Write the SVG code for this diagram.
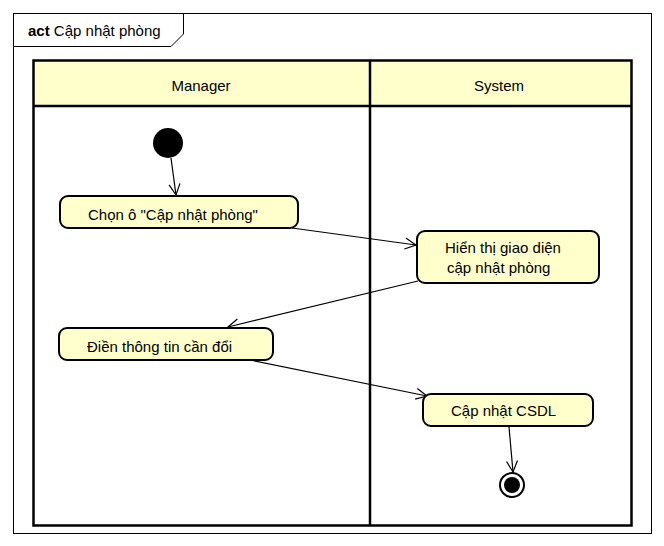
<svg xmlns="http://www.w3.org/2000/svg" width="664" height="546" viewBox="0 0 664 546">
<defs>
<style>
text{font-family:"Liberation Sans",Arial,sans-serif;font-size:15px;fill:#000}
.node{fill:#FFFFCC;stroke:#000;stroke-width:2}
.lane{fill:none;stroke:#000;stroke-width:2.5}
.hdr{fill:#FFFFCC;stroke:none}
.edge{fill:none;stroke:#000;stroke-width:1.2}
</style>
<marker id="arr" markerWidth="14" markerHeight="14" refX="12" refY="7" orient="auto" markerUnits="userSpaceOnUse">
<path d="M1,1.5 L12,7 L1,12.5" fill="none" stroke="#000" stroke-width="1.2"/>
</marker>
</defs>
<rect x="0" y="0" width="664" height="546" fill="#fff"/>
<g id="frame">
<rect x="13.5" y="13.5" width="638" height="520" fill="none" stroke="#000" stroke-width="1"/>
<path d="M13.5,46.5 L171,46.5 L183.5,34 L183.5,13.5" fill="none" stroke="#000" stroke-width="1"/>
<text x="28" y="36"><tspan font-weight="bold">act</tspan> Cập nhật phòng</text>
</g>
<g id="swimlanes">
<rect class="hdr" x="33" y="60" width="599" height="46"/>
<rect class="lane" x="33.5" y="60.5" width="598" height="465"/>
<line class="lane" x1="33.5" y1="106" x2="631.5" y2="106"/>
<line class="lane" x1="370" y1="60.5" x2="370" y2="525.5"/>
<text x="201" y="91" text-anchor="middle">Manager</text>
<text x="499" y="91" text-anchor="middle">System</text>
</g>
<g id="edges">
<line class="edge" x1="171" y1="158" x2="176" y2="195" marker-end="url(#arr)"/>
<line class="edge" x1="292" y1="228" x2="416" y2="245" marker-end="url(#arr)"/>
<line class="edge" x1="418" y1="281" x2="228" y2="327" marker-end="url(#arr)"/>
<line class="edge" x1="250" y1="360" x2="427" y2="396" marker-end="url(#arr)"/>
<line class="edge" x1="509" y1="427" x2="513" y2="472" marker-end="url(#arr)"/>
</g>
<g id="start">
<circle cx="168" cy="143" r="15" fill="#000"/>
</g>
<g id="n1">
<rect class="node" x="60" y="196" width="238" height="32" rx="8"/>
<text x="88" y="220">Chọn ô "Cập nhật phòng"</text>
</g>
<g id="n2">
<rect class="node" x="417" y="231" width="182" height="52" rx="8"/>
<text x="445" y="253">Hiển thị giao diện</text>
<text x="447" y="273">cập nhật phòng</text>
</g>
<g id="n3">
<rect class="node" x="59" y="328" width="214" height="32" rx="8"/>
<text x="87" y="352">Điền thông tin cần đổi</text>
</g>
<g id="n4">
<rect class="node" x="423" y="394" width="170" height="32" rx="8"/>
<text x="451" y="416">Cập nhật CSDL</text>
</g>
<g id="end">
<circle cx="512" cy="485" r="12" fill="#fff" stroke="#000" stroke-width="2"/>
<circle cx="512" cy="485" r="8" fill="#000"/>
</g>
</svg>
